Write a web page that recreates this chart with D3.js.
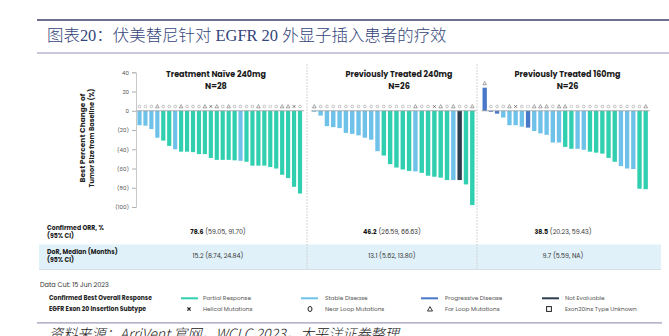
<!DOCTYPE html>
<html><head><meta charset="utf-8">
<script src="https://cdn.jsdelivr.net/npm/d3@7/dist/d3.min.js"></script>
<style>body{margin:0;background:#fff}svg{display:block}</style>
</head><body><svg id="c" width="669" height="336"></svg>
<script>
// ---------- data ----------
const panelTitles = ["Treatment Naïve 240mg", "Previously Treated 240mg", "Previously Treated 160mg"];
const panelN = ["N=28", "N=26", "N=26"];
const values1 = [-15,-15.5,-19,-28,-31,-36.5,-40,-42.5,-42.5,-43,-45,-45,-49,-51,-51,-51,-51.5,-52,-53,-57,-57,-57,-58.5,-60,-66.5,-70,-79,-86];
const resp1 = ["SD","SD","SD","SD","PR","PR","SD","PR","PR","PR","PR","PR","PR","PR","PR","PR","PR","SD","PR","PR","PR","PR","PR","PR","PR","PR","PR","PR"];
const sym1 = ["N","U","N","F","N","N","N","F","N","N","N","F","H","F","N","F","N","N","N","N","F","N","U","N","F","F","H","N"];
const values2 = [-1,-5,-16,-17,-18,-23,-24,-25.5,-28,-30,-42,-46.5,-55.5,-59,-61,-62.5,-63,-64.5,-67.5,-68.5,-69.5,-72,-72,-72,-76.5,-98];
const resp2 = ["SD","SD","SD","SD","SD","SD","SD","SD","SD","SD","SD","PR","PR","PR","PR","PR","SD","PR","PR","PR","PR","PR","SD","NE","PR","PR"];
const sym2 = ["F","N","N","N","N","N","N","N","N","N","N","N","N","N","N","U","F","N","N","H","F","N","F","N","N","F"];
const values3 = [24,-1,-3,-7,-15,-15,-16.5,-17.5,-21,-23.5,-25,-33,-33,-37.5,-39.5,-39.5,-40.5,-42.5,-43.5,-44.5,-49,-53,-57.5,-60,-60.5,-81,-81.5];
const resp3 = ["PD","PD","PD","SD","SD","SD","SD","PD","SD","SD","SD","SD","SD","PR","PR","SD","SD","PR","PR","PR","PR","PR","SD","SD","SD","PR","PR"];
const sym3 = ["F","N","N","N","F","H","N","U","F","F","F","N","F","F","U","N","N","N","N","N","N","N","N","N","N","N","F"];
const yTicks = [40,20,0,-20,-40,-60,-80,-100];
const orrMain = ["78.6","46.2","38.5"];
const orrCI = ["(59.05, 91.70)","(26.59, 66.63)","(20.23, 59.43)"];
const dorText = ["15.2 (8.74, 24.84)","13.1 (5.62, 13.80)","9.7 (5.59, NA)"];
const respKeys = ["PR","SD","PD","NE"];
const respLabels = ["Partial Response","Stable Disease","Progressive Disease","Not Evaluable"];
const symKeys = ["H","N","F","U"];
const symLabels = ["Helical Mutations","Near Loop Mutations","Far Loop Mutations","Exon20ins Type Unknown"];

// ---------- style ----------
const colors = {PR:"#30cfb0", SD:"#6ec2ea", PD:"#4a78c8", NE:"#2d3d4f"};
const FONT = "Poppins, 'Open Sans', Lato, sans-serif";
const svg = d3.select("#c");
function fit(sel, w){ sel.each(function(){ const l=this.getComputedTextLength(); const fs=parseFloat(this.getAttribute("font-size")); if(l>0) this.setAttribute("font-size", (fs*w/l).toFixed(2)); }); }

// header
svg.append("line").attr("x1",37).attr("x2",669).attr("y1",20).attr("y2",20).attr("stroke","#6e6e8e").attr("stroke-width",2);
svg.append("line").attr("x1",37).attr("x2",669).attr("y1",53).attr("y2",53).attr("stroke","#b7b7cf").attr("stroke-width",1.5);
svg.append("text").attr("x",47).attr("y",41).attr("font-size",15).attr("fill","#34457a")
  .attr("font-family","'Liberation Serif','Noto Sans CJK SC',serif").attr("font-weight",300)
  .text("图表20：伏美替尼针对 EGFR 20 外显子插入患者的疗效").call(fit,400);

// y scale & axis
const y = d3.scaleLinear().domain([-100,40]).range([207,72.3]);
const yAxis = svg.append("g").attr("transform","translate(136,0)")
  .call(d3.axisLeft(y).tickValues(yTicks).tickSize(4).tickPadding(3).tickFormat(d=> d<0?`(${-d})`:`${d}`));
yAxis.select(".domain").attr("stroke","#c8c8c8");
yAxis.selectAll(".tick line").attr("stroke","#b0b0b0");
yAxis.selectAll(".tick text").attr("font-size",5.5).attr("fill","#555").attr("font-family",FONT);

svg.append("text").attr("transform","translate(85,138) rotate(-90)").attr("text-anchor","middle")
  .attr("font-family",FONT).attr("font-weight",700).attr("fill","#222").attr("font-size",7)
  .text("Best Percent Change of").call(fit,89);
svg.append("text").attr("transform","translate(93.5,138) rotate(-90)").attr("text-anchor","middle")
  .attr("font-family",FONT).attr("font-weight",700).attr("fill","#222").attr("font-size",7)
  .text("Tumor Size from Baseline (%)").call(fit,99);

// panels
const panels = [
  {v:values1, r:resp1, s:sym1, range:[136.53,302.97], cx:216, tw:100},
  {v:values2, r:resp2, s:sym2, range:[311.14,475.46], cx:399, tw:107},
  {v:values3, r:resp3, s:sym3, range:[481.6,648.8], cx:567.5, tw:106}
];
panels.forEach((p,pi)=>{
  const x = d3.scaleBand().domain(d3.range(p.v.length)).range(p.range).paddingInner(0.3).paddingOuter(0.15);
  const g = svg.append("g");
  g.selectAll("rect").data(p.v).join("rect")
    .attr("x",(d,i)=>x(i)).attr("width",x.bandwidth())
    .attr("y",d=>y(Math.max(0,d))).attr("height",d=>Math.abs(y(d)-y(0)))
    .attr("fill",(d,i)=>colors[p.r[i]]);
  g.append("line").attr("x1",p.range[0]).attr("x2",p.range[1]+1).attr("y1",y(0)).attr("y2",y(0))
    .attr("stroke","#9a9a9a").attr("stroke-width",0.8);
  // subtype symbols
  p.v.forEach((d,i)=>{
    const cx = x(i)+x.bandwidth()/2;
    const cy = Math.min(y(0), y(d)) - 4.3;
    const t = p.s[i];
    if(t==="N") g.append("circle").attr("cx",cx).attr("cy",cy).attr("r",1.35).attr("fill","none").attr("stroke","#9a9a9a").attr("stroke-width",0.6);
    else if(t==="F") g.append("path").attr("d",`M${cx},${cy-1.9}L${cx+1.8},${cy+1.4}L${cx-1.8},${cy+1.4}Z`).attr("fill","none").attr("stroke","#6a6a6a").attr("stroke-width",0.6);
    else if(t==="H") g.append("path").attr("d",`M${cx-1.3},${cy-1.3}L${cx+1.3},${cy+1.3}M${cx+1.3},${cy-1.3}L${cx-1.3},${cy+1.3}`).attr("stroke","#555").attr("stroke-width",0.8);
    else if(t==="U") g.append("rect").attr("x",cx-1.3).attr("y",cy-1.3).attr("width",2.6).attr("height",2.6).attr("fill","none").attr("stroke","#c0c0c0").attr("stroke-width",0.6);
  });
  svg.append("text").attr("x",p.cx).attr("y",77).attr("text-anchor","middle").attr("font-family",FONT)
    .attr("font-weight",700).attr("font-size",8.5).attr("fill","#1a1a1a").text(panelTitles[pi]).call(fit,p.tw);
  svg.append("text").attr("x",p.cx).attr("y",88.6).attr("text-anchor","middle").attr("font-family",FONT)
    .attr("font-weight",700).attr("font-size",8.2).attr("fill","#1a1a1a").text(panelN[pi]);
});

// table
svg.append("rect").attr("x",39).attr("y",244.5).attr("width",622).attr("height",25).attr("fill","#e0f1f9");
svg.append("line").attr("x1",39).attr("x2",661).attr("y1",269.5).attr("y2",269.5).attr("stroke","#cfd8dc").attr("stroke-width",0.8);
[307,477].forEach(xx=>{
  svg.append("line").attr("x1",xx).attr("x2",xx).attr("y1",64).attr("y2",269).attr("stroke","#cfcfcf").attr("stroke-width",0.9).attr("stroke-dasharray","2,1");
});
function label2(x, y1, l1, l2){
  const t = svg.append("text").attr("font-family",FONT).attr("font-weight",700).attr("font-size",6.2).attr("fill","#1a1a1a");
  t.append("tspan").attr("x",x).attr("y",y1).text(l1);
  t.append("tspan").attr("x",x).attr("y",y1+8).text(l2);
}
label2(47, 230.3, "Confirmed ORR, %", "(95% CI)");
label2(47, 254.3, "DoR, Median (Months)", "(95% CI)");
const colCx = [218, 392, 563];
colCx.forEach((cx,i)=>{
  const t = svg.append("text").attr("x",cx).attr("y",234).attr("text-anchor","middle").attr("font-family",FONT).attr("font-size",6.3).attr("fill","#333");
  t.append("tspan").attr("font-weight",700).attr("fill","#111").text(orrMain[i]);
  t.append("tspan").text(" "+orrCI[i]);
  svg.append("text").attr("x",cx).attr("y",258).attr("text-anchor","middle").attr("font-family",FONT).attr("font-size",6.3).attr("fill","#333").text(dorText[i]);
});

// data cut
svg.append("text").attr("x",40).attr("y",286.5).attr("font-family",FONT).attr("font-size",6.5).attr("fill","#333").text("Data Cut: 15 Jun 2023");

// legend
svg.append("text").attr("x",49).attr("y",300.3).attr("font-family",FONT).attr("font-weight",700).attr("font-size",5.6).attr("fill","#222").text("Confirmed Best Overall Response").call(fit,103);
svg.append("text").attr("x",49).attr("y",311).attr("font-family",FONT).attr("font-weight",700).attr("font-size",5.6).attr("fill","#222").text("EGFR Exon 20 Insertion Subtype").call(fit,97);
const legX = [181, 301, 421, 542];
const legTX = [203, 325, 445, 565];
respKeys.forEach((k,i)=>{
  svg.append("line").attr("x1",legX[i]).attr("x2",legX[i]+17).attr("y1",298.3).attr("y2",298.3).attr("stroke",colors[k]).attr("stroke-width",2);
  svg.append("text").attr("x",legTX[i]).attr("y",300.4).attr("font-family",FONT).attr("font-size",5.8).attr("fill","#555").text(respLabels[i]);
});
symKeys.forEach((k,i)=>{
  const cx = [189,310,430,549][i], cy = 309;
  if(k==="H") svg.append("path").attr("d",`M${cx-1.6},${cy-1.6}L${cx+1.6},${cy+1.6}M${cx+1.6},${cy-1.6}L${cx-1.6},${cy+1.6}`).attr("stroke","#222").attr("stroke-width",1.3);
  if(k==="N") svg.append("ellipse").attr("cx",cx).attr("cy",cy).attr("rx",2).attr("ry",2.5).attr("fill","none").attr("stroke","#222").attr("stroke-width",1);
  if(k==="F") svg.append("path").attr("d",`M${cx},${cy-2.4}L${cx+2.5},${cy+2}L${cx-2.5},${cy+2}Z`).attr("fill","none").attr("stroke","#222").attr("stroke-width",0.9);
  if(k==="U") svg.append("rect").attr("x",cx-2.4).attr("y",cy-2.4).attr("width",4.8).attr("height",4.8).attr("fill","none").attr("stroke","#222").attr("stroke-width",1);
  svg.append("text").attr("x",legTX[i]).attr("y",311).attr("font-family",FONT).attr("font-size",5.8).attr("fill","#555").text(symLabels[i]);
});

// footer
svg.append("line").attr("x1",37).attr("x2",662).attr("y1",322.8).attr("y2",322.8).attr("stroke","#9c9cba").attr("stroke-width",1.2);
svg.append("text").attr("x",49).attr("y",339).attr("font-family","'Noto Sans CJK SC',sans-serif").attr("font-style","italic").attr("font-weight",300)
  .attr("font-size",15).attr("fill","#222").text("资料来源：ArriVent 官网，WCLC 2023，太平洋证券整理").call(fit,350);
</script></body></html>
